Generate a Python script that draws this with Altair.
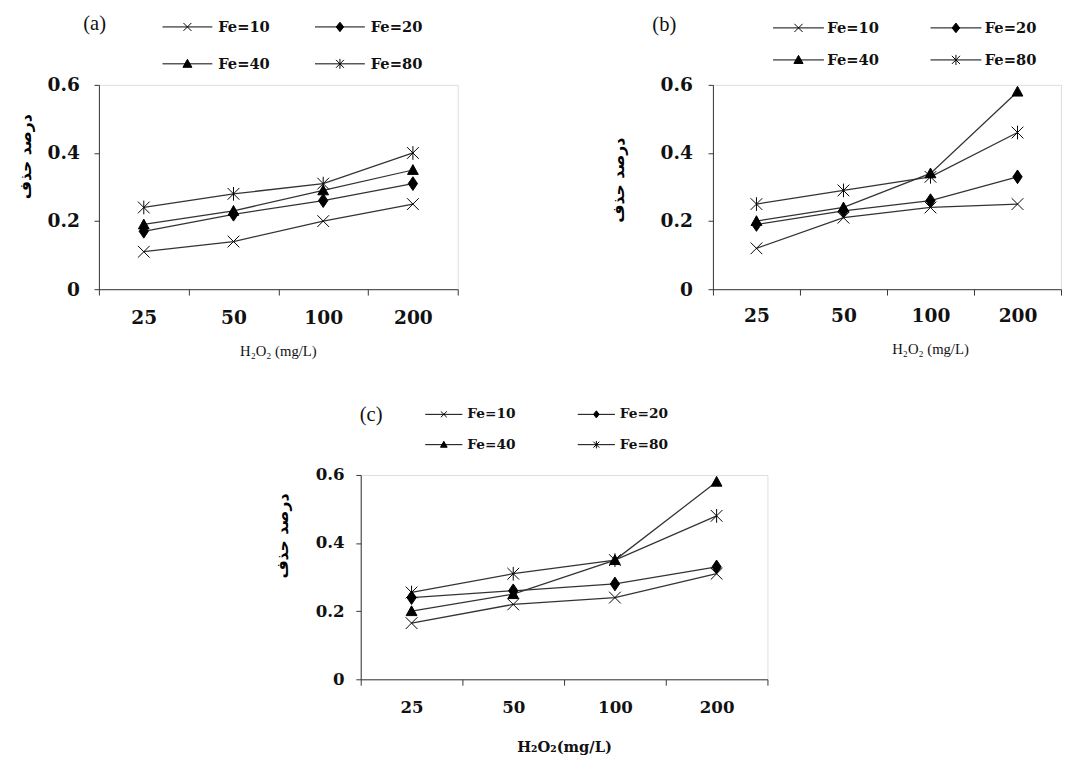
import altair as alt
import pandas as pd

h2o2 = ["25", "50", "100", "200"]
series = ["Fe=10", "Fe=20", "Fe=40", "Fe=80"]

a_fe10 = [0.11, 0.14, 0.20, 0.25]
a_fe20 = [0.17, 0.22, 0.26, 0.31]
a_fe40 = [0.19, 0.23, 0.29, 0.35]
a_fe80 = [0.24, 0.28, 0.31, 0.40]

b_fe10 = [0.12, 0.21, 0.24, 0.25]
b_fe20 = [0.19, 0.23, 0.26, 0.33]
b_fe40 = [0.20, 0.24, 0.34, 0.58]
b_fe80 = [0.25, 0.29, 0.33, 0.46]

c_fe10 = [0.165, 0.22, 0.24, 0.31]
c_fe20 = [0.24, 0.26, 0.28, 0.33]
c_fe40 = [0.20, 0.25, 0.35, 0.58]
c_fe80 = [0.255, 0.31, 0.35, 0.48]

y_ticks = [0, 0.2, 0.4, 0.6]
y_title = "درصد حذف"
x_title_ab = "H₂O₂ (mg/L)"
x_title_c = "H₂O₂(mg/L)"

# marker glyphs (unit box paths)
plot_shapes = [
    "M-1.2,-1.2L1.2,1.2M-1.2,1.2L1.2,-1.2",
    "M0,-1.4L0.95,0L0,1.4L-0.95,0Z",
    "M0,-1.1L1.1,0.9L-1.1,0.9Z",
    "M-1.2,-1.2L1.2,1.2M-1.2,1.2L1.2,-1.2M0,-1.4L0,1.4",
]
legend_shapes = [
    "M-2,0H2M-0.32,-0.32L0.32,0.32M-0.32,0.32L0.32,-0.32",
    "M-2,0H2M0,-0.38L0.3,0L0,0.38L-0.3,0Z",
    "M-2,0H2M0,-0.36L0.36,0.28L-0.36,0.28Z",
    "M-2,0H2M-0.32,-0.32L0.32,0.32M-0.32,0.32L0.32,-0.32M0,-0.4L0,0.4",
]

SERIF = "Liberation Serif"
BOLD_SERIF = "DejaVu Serif"


def make_df(cols):
    rows = []
    for s, vals in zip(series, cols):
        for h, v in zip(h2o2, vals):
            rows.append({"h2o2": h, "series": s, "value": v})
    return pd.DataFrame(rows)


def panel(cols, tag, w, h, p):
    df = make_df(cols)
    x = alt.X(
        "h2o2:N",
        sort=h2o2,
        scale=alt.Scale(type="band", paddingInner=0, paddingOuter=0),
        axis=alt.Axis(
            title=p["xtitle"],
            tickBand="extent",
            labelAngle=0,
            labelFont=BOLD_SERIF,
            labelFontWeight="bold",
            labelFontSize=p["xlab"],
            labelColor="#111",
            labelPadding=p["xpad"],
            tickSize=6,
            tickColor="#333",
            domainColor="#333",
            titleFont=p["xtfont"],
            titleFontSize=p["xtsize"],
            titleFontWeight=p["xtweight"],
            titleColor="#111",
            titleX=p["xtx"],
            titleY=p["xty"],
            titleBaseline="middle",
            grid=False,
        ),
    )
    y = alt.Y(
        "value:Q",
        scale=alt.Scale(domain=[0, 0.6], nice=False),
        axis=alt.Axis(
            title=y_title,
            values=y_ticks,
            format="~g",
            labelFont=BOLD_SERIF,
            labelFontWeight="bold",
            labelFontSize=p["ylab"],
            labelColor="#111",
            labelPadding=p["ypad"],
            tickSize=5,
            tickColor="#333",
            domainColor="#333",
            titleFont="DejaVu Sans",
            titleFontSize=16,
            titleFontWeight="bold",
            titleColor="black",
            titleAngle=270,
            titleX=p["ytx"],
            titleY=p["yty"],
            titleBaseline="middle",
            titleAlign="center",
            grid=False,
        ),
    )
    base = alt.Chart(df)
    lines = base.mark_line(color="#333", strokeWidth=1.3).encode(
        x=x, y=y, detail="series:N"
    )
    pts = base.mark_point(
        filled=True, fill="black", stroke="black", strokeWidth=1, opacity=1, size=p["msize"]
    ).encode(
        x=x,
        y=y,
        shape=alt.Shape(
            "series:N",
            scale=alt.Scale(domain=series, range=plot_shapes),
            legend=None,
        ),
    )
    leg = base.transform_filter("false").mark_point(
        filled=False, fill="black", stroke="black", strokeWidth=1, opacity=1
    ).encode(
        x=x,
        y=y,
        shape=alt.Shape(
            "series:N",
            scale=alt.Scale(domain=series, range=legend_shapes),
            legend=alt.Legend(
                title=tag,
                orient="none",
                direction="horizontal",
                legendX=p["lx"],
                legendY=p["ly"],
                columns=2,
                symbolSize=p["ssize"],
                symbolStrokeWidth=1,
                symbolOpacity=1,
                labelFont=BOLD_SERIF,
                labelFontWeight="bold",
                labelFontSize=p["lfs"],
                labelColor="#111",
                labelOffset=p["loff"],
                columnPadding=p["cpad"],
                rowPadding=p["rpad"],
                titleOrient="left",
                titleAnchor="start",
                titleFont=SERIF,
                titleFontSize=21,
                titleFontWeight="normal",
                titleColor="#111",
                titlePadding=p["tpad"],
                padding=0,
            ),
        ),
    )
    layers = [lines, pts, leg]
    if p.get("spacer"):
        spacer = alt.Chart(pd.DataFrame({"s": [0]})).mark_rule(
            opacity=0, strokeOpacity=0
        ).encode(x=alt.value(w + p["spacer"]), y=alt.value(0), y2=alt.value(1))
        layers.append(spacer)
    return (
        alt.layer(*layers)
        .resolve_scale(shape="independent")
        .properties(width=w, height=h)
    )


pa = panel(
    [a_fe10, a_fe20, a_fe40, a_fe80], "(a)", 367, 209,
    dict(xtitle=x_title_ab, xlab=19, xpad=14, xtfont=SERIF, xtsize=15, xtweight="normal",
         xtx=183, xty=63, ylab=19, ypad=15, ytx=-75, yty=73, msize=100,
         lx=-16, ly=-73, ssize=650, lfs=15, loff=18, cpad=44, rpad=16, tpad=69),
)
pb = panel(
    [b_fe10, b_fe20, b_fe40, b_fe80], "(b)", 356, 209,
    dict(xtitle=x_title_ab, xlab=19, xpad=12, xtfont=SERIF, xtsize=15, xtweight="normal",
         xtx=222, xty=61, ylab=19, ypad=16, ytx=-96, yty=97, msize=100,
         lx=-62, ly=-72, ssize=676, lfs=15, loff=16, cpad=50, rpad=11, tpad=111),
)
pc = panel(
    [c_fe10, c_fe20, c_fe40, c_fe80], "(c)", 416, 209,
    dict(xtitle=x_title_c, xlab=17, xpad=15, xtfont=BOLD_SERIF, xtsize=15, xtweight="bold",
         xtx=208, xty=69, ylab=17, ypad=12, ytx=-80, yty=62, msize=100,
         lx=-1, ly=-72, ssize=361, lfs=14, loff=14, cpad=61, rpad=14, tpad=52,
         spacer=33),
)

chart = (
    alt.vconcat(alt.hconcat(pa, pb, spacing=155), pc, spacing=45, center=True)
    .properties(padding={"left": 9, "top": -4, "right": 0, "bottom": 0})
    .configure_view(stroke="transparent")
    .configure(background="white")
)

chart.save("out.html", embed_options={"renderer": "svg", "actions": False})
